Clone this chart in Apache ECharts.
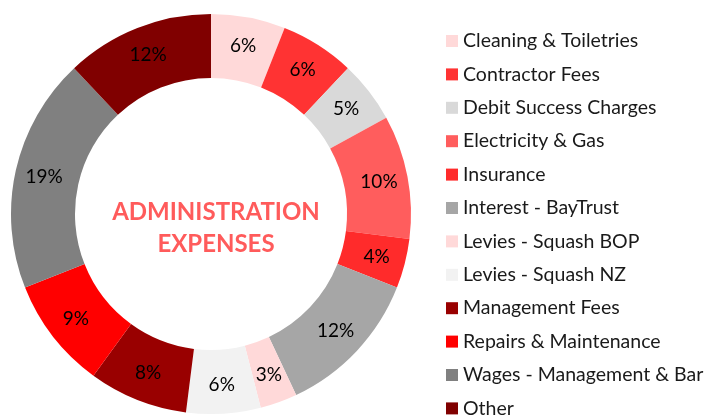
<!DOCTYPE html>
<html>
<head>
<meta charset="utf-8">
<script src="https://cdn.jsdelivr.net/npm/echarts@6/dist/echarts.min.js"></script>
<style>
    html, body { margin: 0; padding: 0; background: #fff; }
    #chart { width: 710px; height: 415px; }
</style>
</head>
<body>
<div id="chart"></div>
<script>
// 类别与数值（百分比）
const categories = [
    'Cleaning & Toiletries',
    'Contractor Fees',
    'Debit Success Charges',
    'Electricity & Gas',
    'Insurance',
    'Interest - BayTrust',
    'Levies - Squash BOP',
    'Levies - Squash NZ',
    'Management Fees',
    'Repairs & Maintenance',
    'Wages - Management & Bar',
    'Other'
];
const values = [6, 6, 5, 10, 4, 12, 3, 6, 8, 9, 19, 12];
const colors = [
    '#FFD9D9', '#FF3333', '#D9D9D9', '#FF5D5D', '#FF2B2B', '#A6A6A6',
    '#FFD9D9', '#F2F2F2', '#990000', '#FF0000', '#808080', '#800000'
];

const FONT = 'Lato, "Open Sans", sans-serif';

const chart = echarts.init(document.getElementById('chart'));

const option = {
    animation: false,
    color: colors,
    title: {
        text: 'ADMINISTRATION\nEXPENSES',
        left: 211,
        top: 223,
        textAlign: 'center',
        textVerticalAlign: 'middle',
        textStyle: {
            fontFamily: FONT,
            fontSize: 24,
            fontWeight: 'bold',
            color: '#FF5B5B',
            lineHeight: 32
        }
    },
    legend: {
        orient: 'vertical',
        left: 446,
        top: 31,
        padding: 0,
        height: 600,
        icon: 'rect',
        itemWidth: 12,
        itemHeight: 12,
        itemGap: 13.4,
        selectedMode: false,
        textStyle: {
            fontFamily: FONT,
            fontSize: 19.5,
            color: '#1a1a1a',
            lineHeight: 20
        },
        data: categories
    },
    series: [{
        type: 'pie',
        center: [211, 214],
        radius: [136, 200],
        startAngle: 90,
        clockwise: true,
        avoidLabelOverlap: false,
        label: {
            show: true,
            position: 'inside',
            fontFamily: FONT,
            fontSize: 19,
            color: '#000',
            formatter: p => p.value + '%'
        },
        labelLine: { show: false },
        itemStyle: { borderWidth: 0 },
        emphasis: { disabled: true },
        data: categories.map((name, i) => ({ name, value: values[i] }))
    }]
};

chart.setOption(option);
</script>
</body>
</html>
